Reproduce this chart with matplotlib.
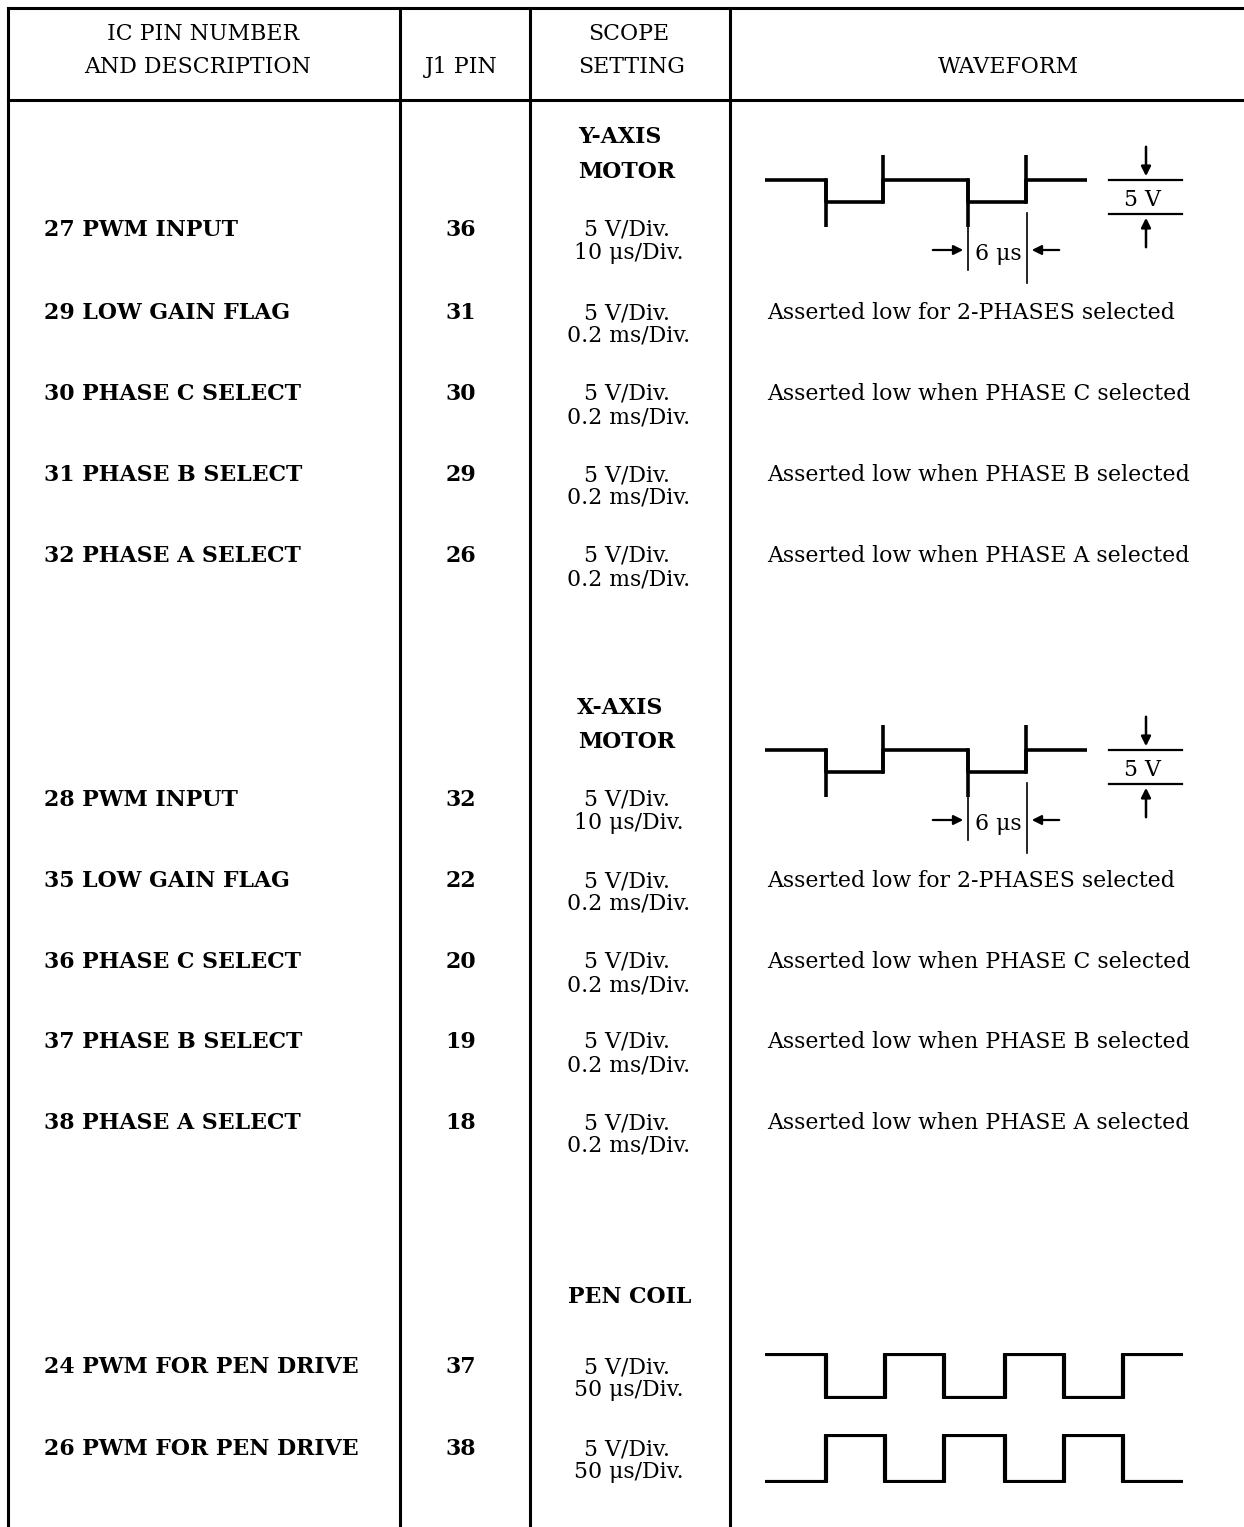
import matplotlib
matplotlib.use("Agg")
from matplotlib import pyplot as plt

plt.rcParams['font.family'] = ['DejaVu Serif']

# header of the table
headers = [("IC PIN NUMBER", 203, 34), ("AND DESCRIPTION", 198, 67), ("J1 PIN", 461, 67),
           ("SCOPE", 629, 34), ("SETTING", 632, 67), ("WAVEFORM", 1008, 67)]

# section titles
sections = [("Y-AXIS", 620, 137), ("MOTOR", 627, 172), ("X-AXIS", 620, 708),
            ("MOTOR", 627, 742), ("PEN COIL", 630, 1297)]

# rows of the table
pin_desc = ["27 PWM INPUT", "29 LOW GAIN FLAG", "30 PHASE C SELECT", "31 PHASE B SELECT",
            "32 PHASE A SELECT",
            "28 PWM INPUT", "35 LOW GAIN FLAG", "36 PHASE C SELECT", "37 PHASE B SELECT",
            "38 PHASE A SELECT",
            "24 PWM FOR PEN DRIVE", "26 PWM FOR PEN DRIVE"]
j1_pin = ["36", "31", "30", "29", "26", "32", "22", "20", "19", "18", "37", "38"]
volts_div = ["5 V/Div."] * 12
time_div = ["10 μs/Div.", "0.2 ms/Div.", "0.2 ms/Div.", "0.2 ms/Div.", "0.2 ms/Div.",
            "10 μs/Div.", "0.2 ms/Div.", "0.2 ms/Div.", "0.2 ms/Div.", "0.2 ms/Div.",
            "50 μs/Div.", "50 μs/Div."]
wave_text = ["", "Asserted low for 2-PHASES selected", "Asserted low when PHASE C selected",
             "Asserted low when PHASE B selected", "Asserted low when PHASE A selected",
             "", "Asserted low for 2-PHASES selected", "Asserted low when PHASE C selected",
             "Asserted low when PHASE B selected", "Asserted low when PHASE A selected",
             "", ""]
row_y = [230, 313, 394, 475, 556, 800, 881, 962, 1042, 1123, 1367, 1449]

# motor PWM waveform (time in us, level in V)
pwm_edges = [0, 6.2, 12.1, 20.7, 26.7, 32.9]
pwm_levels = [5, 0, 5, 0, 5]
pwm_spike = 5.5
# pen drive waveforms (time in divisions)
pen_edges = [0, 1.03, 2.03, 3.03, 4.05, 5.05, 6.04, 7.06]
pen24_levels = [1, 0, 1, 0, 1, 0, 1]
pen26_levels = [0, 1, 0, 1, 0, 1, 0]

W, H = 1244, 1527
fig = plt.figure(figsize=(W / 100, H / 100), dpi=100)
ax = fig.add_axes([0, 0, 1, 1])
ax.set_xlim(0, W)
ax.set_ylim(H, 0)
ax.axis('off')

lw = 2.2
ax.plot([8, W], [8, 8], color='black', lw=lw)
ax.plot([8, W], [100, 100], color='black', lw=lw)
for x in [8, 400, 530, 730]:
    ax.plot([x, x], [8, H], color='black', lw=lw)

fs = 15.8
for txt, x, y in headers:
    ax.text(x, y, txt, ha='center', va='center', fontsize=fs)

for txt, x, y in sections:
    ax.text(x, y, txt, ha='center', va='center', fontsize=fs, fontweight='bold')

for i, y in enumerate(row_y):
    ax.text(44, y, pin_desc[i], ha='left', va='center', fontsize=fs, fontweight='bold')
    ax.text(461, y, j1_pin[i], ha='center', va='center', fontsize=fs, fontweight='bold')
    ax.text(627, y, volts_div[i], ha='center', va='center', fontsize=fs)
    ax.text(629, y + 23, time_div[i], ha='center', va='center', fontsize=fs)
    if wave_text[i]:
        ax.text(767, y, wave_text[i], ha='left', va='center', fontsize=fs)


def px_axes(x0, y0, x1, y1):
    # axes placed by pixel box (top-left origin)
    a = fig.add_axes([x0 / W, 1 - y1 / H, (x1 - x0) / W, (y1 - y0) / H])
    a.axis('off')
    return a


def pwm_wave(ytop):
    # ytop: pixel y of the high level
    a = px_axes(765, ytop - 25, 1087, ytop + 47)
    t, v = [], []
    for k, lev in enumerate(pwm_levels):
        t += [pwm_edges[k], pwm_edges[k + 1]]
        v += [lev, lev]
    a.plot(t, v, color='black', lw=2.6, solid_capstyle='butt')
    for k in range(1, len(pwm_levels)):
        if pwm_levels[k] < pwm_levels[k - 1]:
            a.plot([pwm_edges[k]] * 2, [5, -pwm_spike], color='black', lw=2.6)
        else:
            a.plot([pwm_edges[k]] * 2, [0, 5 + pwm_spike], color='black', lw=2.6)
    a.set_xlim(pwm_edges[0], pwm_edges[-1])
    a.set_ylim(-pwm_spike - 0.05, 5 + pwm_spike + 0.05)

    # 6 us marker
    ax.plot([968, 968], [ytop + 30, ytop + 90], color='black', lw=1.2)
    ax.plot([1027, 1027], [ytop + 33, ytop + 103], color='black', lw=1.2)
    ax.annotate('', xy=(966, ytop + 70), xytext=(930, ytop + 70),
                arrowprops=dict(arrowstyle='-|>', color='black', lw=1.6, mutation_scale=14))
    ax.annotate('', xy=(1029, ytop + 70), xytext=(1062, ytop + 70),
                arrowprops=dict(arrowstyle='-|>', color='black', lw=1.6, mutation_scale=14))
    ax.text(975, ytop + 74, "6 μs", ha='left', va='center', fontsize=fs)

    # 5 V marker
    ax.plot([1109, 1182], [ytop, ytop], color='black', lw=1.6)
    ax.plot([1109, 1182], [ytop + 34, ytop + 34], color='black', lw=1.6)
    ax.annotate('', xy=(1146, ytop - 1), xytext=(1146, ytop - 36),
                arrowprops=dict(arrowstyle='-|>', color='black', lw=1.8, mutation_scale=14))
    ax.annotate('', xy=(1146, ytop + 35), xytext=(1146, ytop + 70),
                arrowprops=dict(arrowstyle='-|>', color='black', lw=1.8, mutation_scale=14))
    ax.text(1143, ytop + 20, "5 V", ha='center', va='center', fontsize=fs)


def pen_wave(ytop, ybot, levels):
    a = px_axes(765, ytop, 1183, ybot)
    t, v = [], []
    for k, lev in enumerate(levels):
        t += [pen_edges[k], pen_edges[k + 1]]
        v += [lev, lev]
    a.plot(t, v, color='black', lw=3.0)
    a.set_xlim(pen_edges[0], pen_edges[-1])
    a.set_ylim(-0.03, 1.03)


pwm_wave(180)
pwm_wave(750)
pen_wave(1353, 1399, pen24_levels)
pen_wave(1434, 1483, pen26_levels)

fig.savefig("out.png", dpi=100)
